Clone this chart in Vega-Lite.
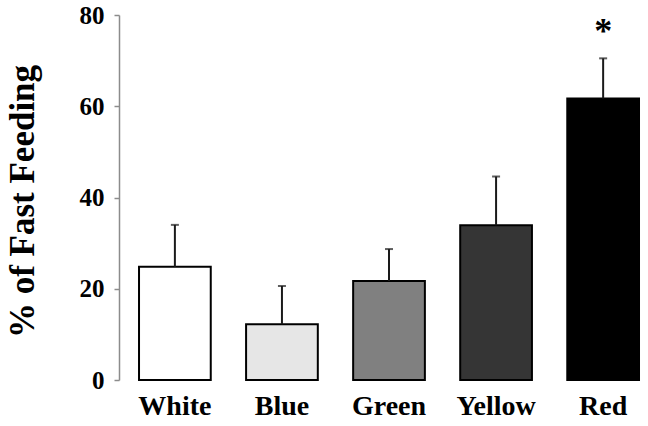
{
  "$schema": "https://vega.github.io/schema/vega-lite/v6.json",
  "width": 529,
  "height": 365,
  "autosize": {"type": "none"},
  "padding": {"left": 119, "top": 15, "right": 0, "bottom": 46},
  "background": "white",
  "config": {"view": {"stroke": null}},
  "data": {
    "values": [
      {"color": "White", "mean": 24.8, "upper": 34.0, "sig": ""},
      {"color": "Blue", "mean": 12.2, "upper": 20.6, "sig": ""},
      {"color": "Green", "mean": 21.7, "upper": 28.7, "sig": ""},
      {"color": "Yellow", "mean": 33.9, "upper": 44.6, "sig": ""},
      {"color": "Red", "mean": 61.7, "upper": 70.5, "sig": "*"}
    ]
  },
  "encoding": {
    "x": {
      "field": "color",
      "type": "nominal",
      "sort": null,
      "scale": {"paddingInner": 0.33, "paddingOuter": 0.1355, "align": 0.69},
      "axis": {
        "title": null,
        "domain": false,
        "ticks": false,
        "labelAngle": 0,
        "labelFont": "Liberation Serif",
        "labelFontWeight": "bold",
        "labelFontSize": 28,
        "labelColor": "black",
        "labelPadding": 12
      }
    }
  },
  "layer": [
    {
      "mark": {"type": "bar", "stroke": "black", "strokeWidth": 2},
      "encoding": {
        "y": {
          "field": "mean",
          "type": "quantitative",
          "scale": {"domain": [0, 80], "nice": false},
          "axis": {
            "title": "% of Fast Feeding",
            "values": [0, 20, 40, 60, 80],
            "grid": false,
            "domainColor": "#8c8c8c",
            "domainWidth": 1.5,
            "tickColor": "#8c8c8c",
            "tickWidth": 1.5,
            "tickSize": 5,
            "labelFont": "Liberation Serif",
            "labelFontWeight": "bold",
            "labelFontSize": 25,
            "labelColor": "black",
            "labelPadding": 10,
            "titleFont": "Liberation Serif",
            "titleFontWeight": "bold",
            "titleFontSize": 35,
            "titleColor": "black",
            "titleX": -97,
            "titleY": 186,
            "titleAngle": -90,
            "titleBaseline": "middle",
            "titleAlign": "center"
          }
        },
        "fill": {
          "field": "color",
          "type": "nominal",
          "scale": {
            "domain": ["White", "Blue", "Green", "Yellow", "Red"],
            "range": ["#ffffff", "#e6e6e6", "#808080", "#353535", "#000000"]
          },
          "legend": null
        }
      }
    },
    {
      "mark": {"type": "rule", "color": "#1a1a1a", "strokeWidth": 2},
      "encoding": {
        "y": {"field": "mean", "type": "quantitative"},
        "y2": {"field": "upper"}
      }
    },
    {
      "mark": {"type": "tick", "color": "#1a1a1a", "thickness": 2, "size": 8},
      "encoding": {
        "y": {"field": "upper", "type": "quantitative"}
      }
    },
    {
      "mark": {"type": "text", "font": "Liberation Serif", "fontWeight": "bold", "fontSize": 36, "baseline": "middle", "dy": -26, "color": "black"},
      "encoding": {
        "y": {"field": "upper", "type": "quantitative"},
        "text": {"field": "sig"}
      }
    }
  ]
}
